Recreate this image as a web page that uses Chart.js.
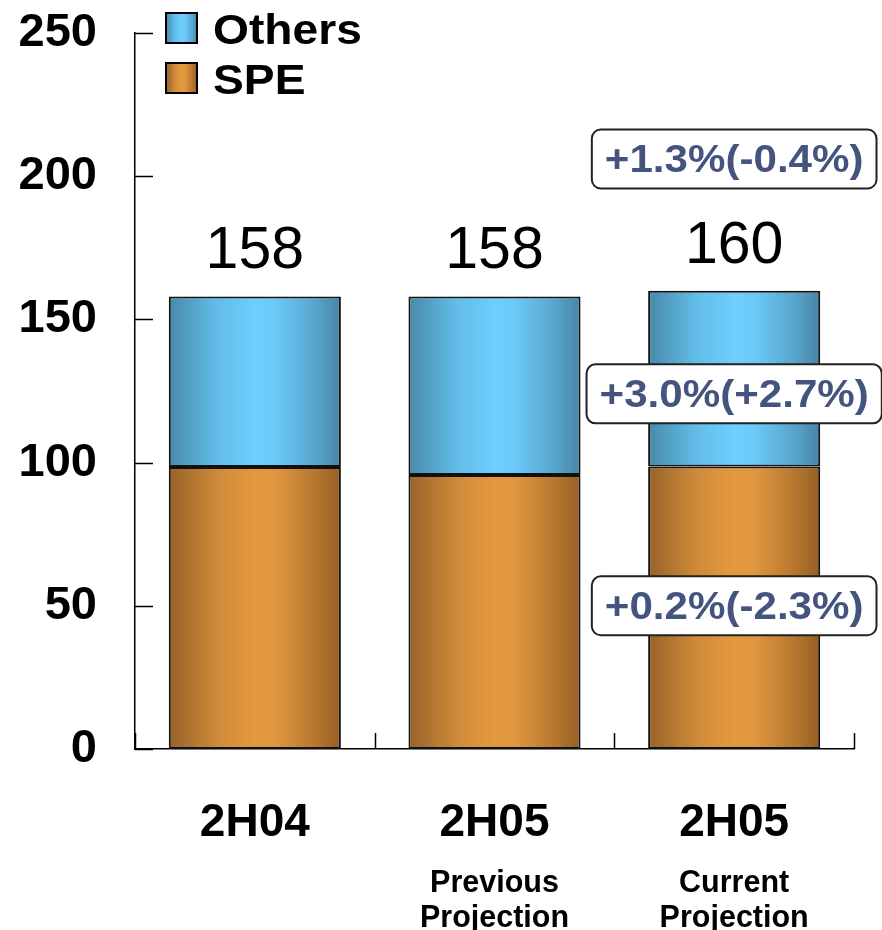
<!DOCTYPE html>
<html>
<head>
<meta charset="utf-8">
<script src="https://cdn.jsdelivr.net/npm/chart.js@4.4.1/dist/chart.umd.min.js"></script>
<style>
  html, body { margin: 0; padding: 0; background: #fff; }
  #wrap { width: 882px; height: 930px; }
</style>
</head>
<body>
<div id="wrap"><canvas id="chartSPE" width="882" height="930"></canvas></div>
<script>
// valores
const categories = ["2H04", "2H05", "2H05"];
const subLabels = [[], ["Previous", "Projection"], ["Current", "Projection"]];
const speValues = [98.5, 95.7, 98.6];
const othersValues = [59.5, 62.3, 61.4];
const totals = [158, 158, 160];
const yTicks = [0, 50, 100, 150, 200, 250];
const changeLabels = ["+0.2%(-2.3%)", "+3.0%(+2.7%)", "+1.3%(-0.4%)"];
const changeAt = [50, 124, 206]; // altura (en valor) de cada recuadro sobre la 3a barra

const FONT = "'Liberation Sans', Arial, sans-serif";
const BAR_PCT = 0.718;

const blueStops = [[0, "#4a89aa"], [0.28, "#62bde8"], [0.5, "#6ecefd"], [0.62, "#6bc9f8"], [0.85, "#57a5cd"], [1, "#4884a4"]];
const orangeStops = [[0, "#97622a"], [0.28, "#cf8a3a"], [0.5, "#e4993f"], [0.62, "#e0963e"], [0.85, "#b7772f"], [1, "#945f25"]];

function cylinder(stops) {
  return (c) => {
    const chart = c.chart;
    const xs = chart.scales && chart.scales.x;
    if (!chart.chartArea || !xs || c.dataIndex === undefined) return stops[2][1];
    const cx = xs.getPixelForValue(c.dataIndex);
    const half = (xs.width / categories.length) * BAR_PCT / 2;
    const g = chart.ctx.createLinearGradient(cx - half, 0, cx + half, 0);
    stops.forEach(([o, col]) => g.addColorStop(o, col));
    return g;
  };
}

function stretchText(ctx, text, x, y, sx) {
  ctx.save();
  ctx.translate(x, y);
  ctx.scale(sx, 1);
  ctx.fillText(text, 0, 0);
  ctx.restore();
}

const extras = {
  id: "extras",
  afterDatasetsDraw(chart) {
    const { ctx, chartArea } = chart;
    const xs = chart.scales.x, ys = chart.scales.y;
    ctx.save();

    // marcas hacia dentro en el eje Y
    ctx.strokeStyle = "#000";
    ctx.lineWidth = 1.5;
    yTicks.forEach((v) => {
      const y = Math.round(ys.getPixelForValue(v)) + 0.5;
      ctx.beginPath();
      ctx.moveTo(chartArea.left, y);
      ctx.lineTo(chartArea.left + 18, y);
      ctx.stroke();
    });
    // marcas entre categorias en el eje X
    for (let i = 0; i <= categories.length; i++) {
      const x = Math.round(xs.getPixelForValue(i - 0.5)) + 0.5;
      ctx.beginPath();
      ctx.moveTo(x, chartArea.bottom);
      ctx.lineTo(x, chartArea.bottom - 16);
      ctx.stroke();
    }

    // totales encima de cada barra
    ctx.fillStyle = "#000";
    ctx.textAlign = "center";
    ctx.textBaseline = "alphabetic";
    ctx.font = "59px " + FONT;
    totals.forEach((t, i) => {
      ctx.fillText(String(t), xs.getPixelForValue(i), ys.getPixelForValue(t) - 28);
    });

    // subtitulos de categoria
    ctx.font = "bold 30.5px " + FONT;
    subLabels.forEach((lines, i) => {
      lines.forEach((txt, k) => {
        ctx.fillText(txt, xs.getPixelForValue(i), 892 + k * 35);
      });
    });

    // recuadros de variacion
    const last = categories.length - 1;
    const cx = xs.getPixelForValue(last);
    ctx.font = "bold 39px " + FONT;
    changeLabels.forEach((txt, k) => {
      const cy = ys.getPixelForValue(changeAt[k]);
      const w = ctx.measureText(txt).width * 1.08 + 26;
      const h = 59;
      ctx.beginPath();
      ctx.roundRect(cx - w / 2, cy - h / 2, w, h, 9);
      ctx.fillStyle = "#fff";
      ctx.fill();
      ctx.strokeStyle = "#222";
      ctx.lineWidth = 2;
      ctx.stroke();
      ctx.fillStyle = "#44547e";
      ctx.textBaseline = "middle";
      stretchText(ctx, txt, cx, cy + 2, 1.08);
    });

    // leyenda
    const items = [["Others", blueStops, 13], ["SPE", orangeStops, 63]];
    ctx.font = "bold 42px " + FONT;
    ctx.textAlign = "left";
    ctx.textBaseline = "alphabetic";
    items.forEach(([name, stops, top]) => {
      const g = ctx.createLinearGradient(166, 0, 197, 0);
      stops.forEach(([o, col]) => g.addColorStop(o, col));
      ctx.fillStyle = g;
      ctx.fillRect(166, top, 31, 30);
      ctx.strokeStyle = "#000";
      ctx.lineWidth = 2;
      ctx.strokeRect(166, top, 31, 30);
      ctx.fillStyle = "#000";
      stretchText(ctx, name, 213, top + 31, 1.1);
    });

    ctx.restore();
  },
};

const canvas = document.getElementById("chartSPE");
new Chart(canvas.getContext("2d"), {
  type: "bar",
  data: {
    labels: categories,
    datasets: [
      {
        label: "SPE",
        data: speValues,
        backgroundColor: cylinder(orangeStops),
        borderColor: "#111",
        borderWidth: 2,
        borderSkipped: false,
        categoryPercentage: 1,
        barPercentage: BAR_PCT,
      },
      {
        label: "Others",
        data: othersValues,
        backgroundColor: cylinder(blueStops),
        borderColor: "#111",
        borderWidth: 2,
        borderSkipped: false,
        categoryPercentage: 1,
        barPercentage: BAR_PCT,
      },
    ],
  },
  options: {
    responsive: false,
    animation: false,
    events: [],
    layout: { padding: { top: 33, right: 28, left: 0, bottom: 0 } },
    plugins: { legend: { display: false }, tooltip: { enabled: false } },
    scales: {
      x: {
        stacked: true,
        grid: { display: false, drawTicks: false, tickLength: 0 },
        border: { color: "#000", width: 1.5 },
        ticks: { color: "#000", font: { family: FONT, size: 46, weight: "bold" }, padding: 47, maxRotation: 0 },
        afterFit: (s) => { s.height = 181; s.paddingLeft = 0; s.paddingRight = 0; },
      },
      y: {
        stacked: true,
        min: 0,
        max: 250,
        grid: { display: false, drawTicks: false, tickLength: 0 },
        border: { color: "#000", width: 1.5 },
        ticks: { stepSize: 50, color: "#000", font: { family: FONT, size: 47, weight: "bold" }, padding: 38 },
        afterFit: (s) => { s.width = 135; s.paddingTop = 0; s.paddingBottom = 0; },
      },
    },
  },
  plugins: [extras],
});
</script>
</body>
</html>
